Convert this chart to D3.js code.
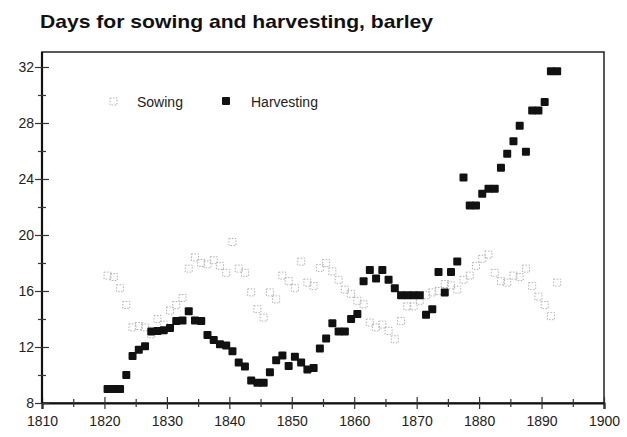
<!DOCTYPE html>
<html>
<head>
<meta charset="utf-8">
<script src="https://cdn.jsdelivr.net/npm/d3@7"></script>
<style>
  body { margin: 0; background: #fff; }
  svg { display: block; }
</style>
</head>
<body>
<div id="chart"></div>
<script>
// chart data
var title = "Days for sowing and harvesting, barley";
var seriesNames = ["Sowing", "Harvesting"];
var firstYear = 1820;

var harvesting = [
  9.0, 9.0, 9.0, 10.0, 11.35, 11.8, 12.05, 13.1, 13.15, 13.2,      // 1820-1829
  13.35, 13.85, 13.9, 14.55, 13.9, 13.85, 12.85, 12.5, 12.2, 12.1, // 1830-1839
  11.7, 10.9, 10.6, 9.6, 9.45, 9.45, 10.2, 11.05, 11.4, 10.65,     // 1840-1849
  11.3, 10.9, 10.4, 10.5, 11.9, 12.6, 13.7, 13.1, 13.1, 14.0,      // 1850-1859
  14.35, 16.7, 17.5, 16.9, 17.5, 16.8, 16.2, 15.7, 15.7, 15.7,     // 1860-1869
  15.7, 14.3, 14.7, 17.35, 15.9, 17.35, 18.1, 24.1, 22.1, 22.1,    // 1870-1879
  22.95, 23.3, 23.3, 24.8, 25.8, 26.7, 27.8, 25.95, 28.9, 28.9,    // 1880-1889
  29.5, 31.7, 31.7                                                 // 1890-1892
];

var sowing = [
  17.1, 17.0, 16.2, 15.0, 13.4, 13.5, 13.4, 12.9, 14.0, 13.6,      // 1820-1829
  14.6, 15.0, 15.5, 17.6, 18.4, 18.0, 17.9, 18.2, 17.8, 17.3,      // 1830-1839
  19.5, 17.6, 17.3, 15.9, 14.7, 14.1, 15.9, 15.4, 17.1, 16.7,      // 1840-1849
  16.2, 18.1, 16.6, 16.35, 17.65, 18.0, 17.4, 16.8, 16.1, 15.8,    // 1850-1859
  15.3, 15.05, 13.75, 13.4, 13.6, 13.15, 12.55, 13.85, 14.9, 14.9, // 1860-1869
  15.3, 15.7, 15.9, 16.0, 16.5, 16.4, 16.1, 16.8, 17.1, 17.8,      // 1870-1879
  18.3, 18.6, 17.3, 16.7, 16.6, 17.1, 17.0, 17.6, 16.35, 15.6,     // 1880-1889
  15.0, 14.2, 16.6                                                 // 1890-1892
];

var xTicks = [1810, 1820, 1830, 1840, 1850, 1860, 1870, 1880, 1890, 1900];
var xMinorTicks = [1815, 1825, 1835, 1845, 1855, 1865, 1875, 1885, 1895];
var yTicks = [8, 12, 16, 20, 24, 28, 32];
var yMinorTicks = [10, 14, 18, 22, 26, 30];

var svg = d3.select("#chart")
  .append("svg")
  .attr("width", 627)
  .attr("height", 437);

var margin = {top: 52, right: 23, bottom: 34, left: 42},
    width = +svg.attr("width") - margin.left - margin.right,
    height = +svg.attr("height") - margin.top - margin.bottom;

var font = "'Liberation Sans', Arial, Helvetica, sans-serif";

// title
svg.append("text")
  .attr("x", 40)
  .attr("y", 28)
  .attr("font-family", font)
  .attr("font-weight", "bold")
  .attr("font-size", 19)
  .attr("textLength", 393)
  .attr("lengthAdjust", "spacingAndGlyphs")
  .attr("fill", "#111")
  .text(title);

var g = svg.append("g")
  .attr("transform", "translate(" + margin.left + "," + margin.top + ")");

var x = d3.scaleLinear().domain([1810, 1900]).range([0, width]);
var y = d3.scaleLinear().domain([8, 32]).range([height, 15]);

// yearly values sit in the middle of their year
function xYear(i) { return x(firstYear + i + 0.5); }

// frame
g.append("rect")
  .attr("x", 0).attr("y", 0)
  .attr("width", width).attr("height", height)
  .attr("fill", "none")
  .attr("stroke", "#222")
  .attr("stroke-width", 1.5);

// x axis
var xAxis = g.append("g")
  .attr("class", "x axis")
  .attr("transform", "translate(0," + height + ")")
  .call(d3.axisBottom(x).tickValues(xTicks).tickFormat(d3.format("d")).tickSize(6).tickPadding(7));
xAxis.selectAll(".tick line").attr("y1", -6);

var xMinor = g.append("g")
  .attr("transform", "translate(0," + height + ")")
  .call(d3.axisBottom(x).tickValues(xMinorTicks).tickFormat("").tickSize(4));
xMinor.selectAll(".tick line").attr("y1", -4);
xMinor.select(".domain").remove();

// y axis
var yAxis = g.append("g")
  .attr("class", "y axis")
  .call(d3.axisLeft(y).tickValues(yTicks).tickSize(7).tickPadding(1));
yAxis.selectAll(".tick line").attr("x1", 7);

var yMinor = g.append("g")
  .call(d3.axisLeft(y).tickValues(yMinorTicks).tickFormat("").tickSize(4));
yMinor.selectAll(".tick line").attr("x1", 4);
yMinor.select(".domain").remove();

// the axis line runs to the frame top
yAxis.select(".domain").attr("d", "M0," + height + "V0");

g.selectAll(".axis .domain").attr("stroke", "#111").attr("stroke-width", 2.2);
g.selectAll(".tick line").attr("stroke", "#333").attr("stroke-width", 1.2);
g.selectAll(".tick text")
  .attr("font-family", font)
  .attr("font-size", 14)
  .attr("fill", "#222");

// sowing: faint open squares
g.selectAll(".sow")
  .data(sowing)
  .enter().append("rect")
  .attr("class", "sow")
  .attr("x", function(d, i) { return xYear(i) - 3.5; })
  .attr("y", function(d) { return y(d) - 3.5; })
  .attr("width", 7)
  .attr("height", 7)
  .attr("fill", "none")
  .attr("stroke", "#b0b0b0")
  .attr("stroke-width", 1)
  .attr("stroke-dasharray", "1.5,1.5");

// harvesting: solid black squares
g.selectAll(".harv")
  .data(harvesting)
  .enter().append("rect")
  .attr("class", "harv")
  .attr("x", function(d, i) { return xYear(i) - 4; })
  .attr("y", function(d) { return y(d) - 4; })
  .attr("width", 8)
  .attr("height", 8)
  .attr("rx", 1)
  .attr("fill", "#111");

// legend
var legend = svg.append("g");
legend.append("rect")
  .attr("x", 110).attr("y", 98).attr("width", 7).attr("height", 7)
  .attr("fill", "none")
  .attr("stroke", "#b0b0b0")
  .attr("stroke-dasharray", "1.5,1.5");
legend.append("text")
  .attr("x", 137).attr("y", 107)
  .attr("font-family", font).attr("font-size", 14).attr("fill", "#222")
  .text(seriesNames[0]);
legend.append("rect")
  .attr("x", 222).attr("y", 97).attr("width", 8).attr("height", 8)
  .attr("rx", 1)
  .attr("fill", "#111");
legend.append("text")
  .attr("x", 251).attr("y", 107)
  .attr("font-family", font).attr("font-size", 14).attr("fill", "#222")
  .text(seriesNames[1]);
</script>
</body>
</html>
